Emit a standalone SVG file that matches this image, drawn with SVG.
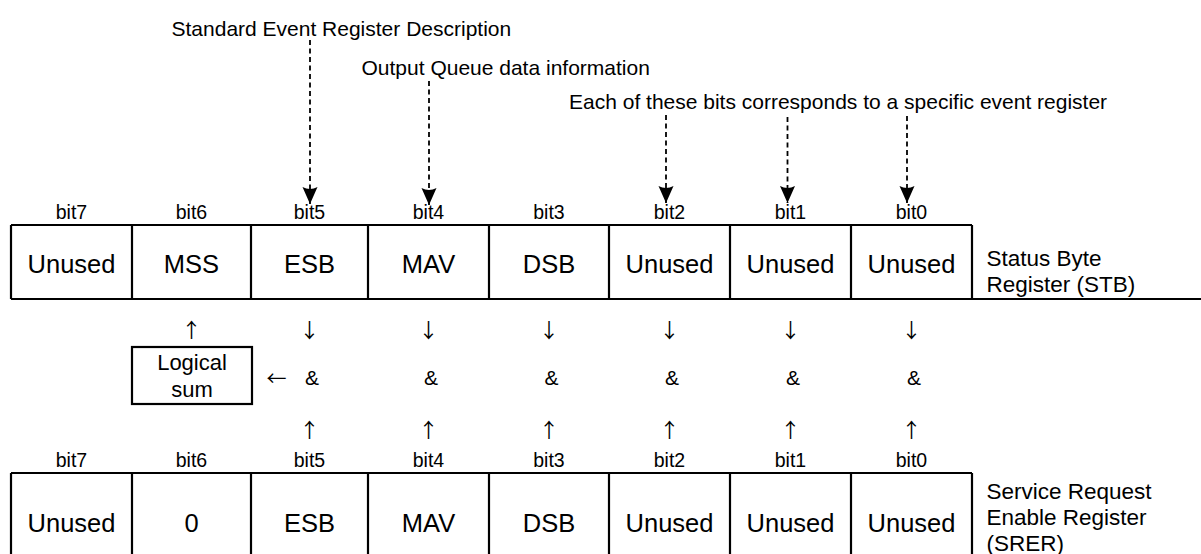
<svg xmlns="http://www.w3.org/2000/svg" width="1201" height="554" viewBox="0 0 1201 554">
<defs>
<style>
text{font-family:"Liberation Sans",Arial,sans-serif;fill:#000}
.note{font-size:21px}
.bit{font-size:19.5px;text-anchor:middle}
.cell{font-size:25.5px;text-anchor:middle}
.side{font-size:22.5px}
.lbl{font-size:22px;text-anchor:middle}
.sym{font-family:"Noto Sans CJK JP","DejaVu Sans",sans-serif;font-size:20px;text-anchor:middle}
.amp{font-size:21px;text-anchor:middle}
.box{fill:none;stroke:#000;stroke-width:2.2}
.dash{fill:none;stroke:#000;stroke-width:1.8;stroke-dasharray:5 3.5}
</style>
<marker id="head" markerWidth="20" markerHeight="18" viewBox="-19 -9 20 18" refX="0" refY="0" orient="auto" markerUnits="userSpaceOnUse">
<path d="M-17,-7.5 Q-13,0 -17,7.5 L0,0 Z" fill="#000"/>
</marker>
</defs>
<rect width="1201" height="554" fill="#fff"/>

<g id="annotations">
<text class="note" x="171.5" y="36">Standard Event Register Description</text>
<text class="note" x="361.5" y="74.5">Output Queue data information</text>
<text class="note" x="569" y="109">Each of these bits corresponds to a specific event register</text>
</g>

<g id="connectors">
<line class="dash" x1="310" y1="40" x2="310" y2="204" marker-end="url(#head)"/>
<line class="dash" x1="429" y1="81" x2="429" y2="205" marker-end="url(#head)"/>
<line class="dash" x1="666" y1="115" x2="666" y2="203" marker-end="url(#head)"/>
<line class="dash" x1="787.5" y1="117" x2="787.5" y2="203" marker-end="url(#head)"/>
<line class="dash" x1="907" y1="116" x2="907" y2="203" marker-end="url(#head)"/>
<text class="sym" x="191.5" y="338">↑</text>
<text class="sym" x="309.5" y="338">↓</text>
<text class="sym" x="428.5" y="338">↓</text>
<text class="sym" x="549" y="338">↓</text>
<text class="sym" x="669.5" y="338">↓</text>
<text class="sym" x="790.5" y="338">↓</text>
<text class="sym" x="911.5" y="338">↓</text>
<text class="sym" x="276.5" y="386">←</text>
<text class="sym" x="309.5" y="438">↑</text>
<text class="sym" x="428.5" y="438">↑</text>
<text class="sym" x="549" y="438">↑</text>
<text class="sym" x="669.5" y="438">↑</text>
<text class="sym" x="790.5" y="438">↑</text>
<text class="sym" x="911.5" y="438">↑</text>
</g>

<g id="stb-register">
<path class="box" d="M11,225 H972 M11,299 H1201 M11,225 V299 M132,225 V299 M251,225 V299 M368,225 V299 M489,225 V299 M609,225 V299 M730,225 V299 M851,225 V299 M972,225 V299"/>
<text class="bit" x="71.5" y="219">bit7</text>
<text class="bit" x="191.5" y="219">bit6</text>
<text class="bit" x="309.5" y="219">bit5</text>
<text class="bit" x="428.5" y="219">bit4</text>
<text class="bit" x="549" y="219">bit3</text>
<text class="bit" x="669.5" y="219">bit2</text>
<text class="bit" x="790.5" y="219">bit1</text>
<text class="bit" x="911.5" y="219">bit0</text>
<text class="cell" x="71.5" y="272.5">Unused</text>
<text class="cell" x="191.5" y="272.5">MSS</text>
<text class="cell" x="309.5" y="272.5">ESB</text>
<text class="cell" x="428.5" y="272.5">MAV</text>
<text class="cell" x="549" y="272.5">DSB</text>
<text class="cell" x="669.5" y="272.5">Unused</text>
<text class="cell" x="790.5" y="272.5">Unused</text>
<text class="cell" x="911.5" y="272.5">Unused</text>
<text class="side" x="986.5" y="266">Status Byte</text>
<text class="side" x="986.5" y="292">Register (STB)</text>
</g>

<g id="logical-sum">
<rect class="box" x="132" y="347" width="120" height="57"/>
<text class="lbl" x="192" y="370">Logical</text>
<text class="lbl" x="192" y="396.5">sum</text>
</g>

<g id="and-gates">
<text class="amp" x="312" y="385">&amp;</text>
<text class="amp" x="431" y="385">&amp;</text>
<text class="amp" x="551.5" y="385">&amp;</text>
<text class="amp" x="672" y="385">&amp;</text>
<text class="amp" x="793" y="385">&amp;</text>
<text class="amp" x="914" y="385">&amp;</text>
</g>

<g id="srer-register">
<path class="box" d="M11,473 H972 M11,473 V554 M132,473 V554 M251,473 V554 M368,473 V554 M489,473 V554 M609,473 V554 M730,473 V554 M851,473 V554 M972,473 V554"/>
<text class="bit" x="71.5" y="467">bit7</text>
<text class="bit" x="191.5" y="467">bit6</text>
<text class="bit" x="309.5" y="467">bit5</text>
<text class="bit" x="428.5" y="467">bit4</text>
<text class="bit" x="549" y="467">bit3</text>
<text class="bit" x="669.5" y="467">bit2</text>
<text class="bit" x="790.5" y="467">bit1</text>
<text class="bit" x="911.5" y="467">bit0</text>
<text class="cell" x="71.5" y="531.5">Unused</text>
<text class="cell" x="191.5" y="531.5">0</text>
<text class="cell" x="309.5" y="531.5">ESB</text>
<text class="cell" x="428.5" y="531.5">MAV</text>
<text class="cell" x="549" y="531.5">DSB</text>
<text class="cell" x="669.5" y="531.5">Unused</text>
<text class="cell" x="790.5" y="531.5">Unused</text>
<text class="cell" x="911.5" y="531.5">Unused</text>
<text class="side" x="986.5" y="498.5">Service Request</text>
<text class="side" x="986.5" y="524.5">Enable Register</text>
<text class="side" x="986.5" y="550.5">(SRER)</text>
</g>
</svg>
